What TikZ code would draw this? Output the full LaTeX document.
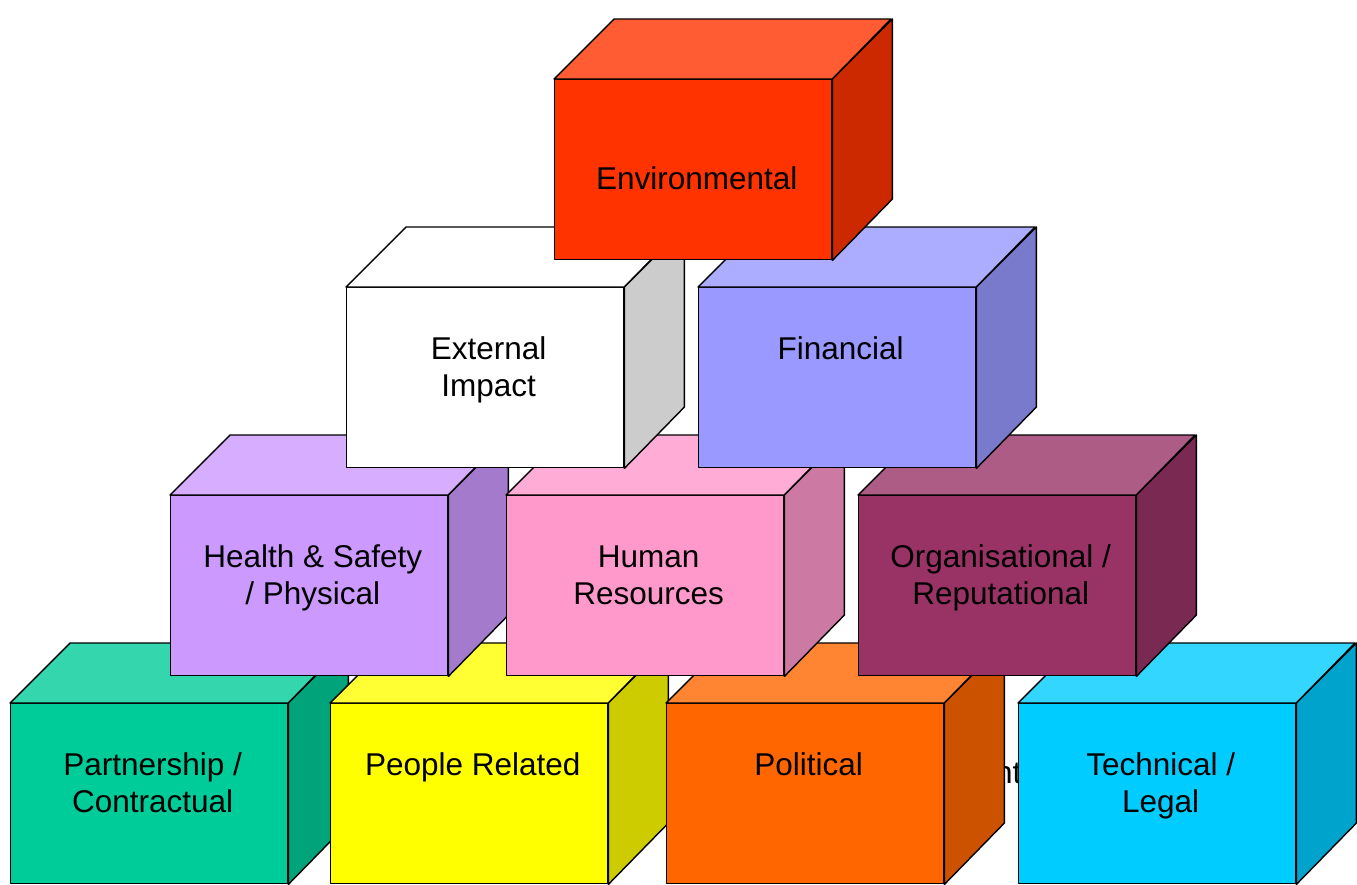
\documentclass[tikz,border=0pt]{standalone}
\usepackage{fontspec}
\setmainfont{Liberation Sans}
\begin{document}
\begin{tikzpicture}[x=1pt,y=-1pt]
\tikzset{
  face/.style={draw=black, line width=1.4pt, line join=round},
  lbl/.style={align=center, inner sep=0pt, font=\fontsize{31.5}{37}\selectfont},
}
\definecolor{cEnv}{HTML}{FF3300}
\definecolor{cExt}{HTML}{FFFFFF}
\definecolor{cFin}{HTML}{9999FF}
\definecolor{cHS}{HTML}{CC99FF}
\definecolor{cHR}{HTML}{FF99CC}
\definecolor{cOrg}{HTML}{993366}
\definecolor{cPart}{HTML}{00CC99}
\definecolor{cPeop}{HTML}{FFFF00}
\definecolor{cPol}{HTML}{FF6600}
\definecolor{cTech}{HTML}{00CCFF}
% block: name, left, top, colour, last baseline below top, label
\newcommand\block[6]{%
  \node[face, fill=#4, minimum width=277pt, minimum height=180pt,
        inner sep=0pt, anchor=north west] (#1) at (#2,#3) {};
  \draw[face, fill=#4!80!white] (#1.north west) -- ++(60,-60) -- ++(277,0)
        -- (#1.north east) -- cycle;
  \draw[face, fill=#4!80!black] (#1.north east) -- ++(60,-60) -- ++(0,180)
        -- (#1.south east) -- cycle;
  \node[lbl, anchor=base] (#1-txt) at ([xshift=3.5pt,yshift=-#5pt]#1.north) {#6};
}
\useasboundingbox (0,0) rectangle (1357,884);
\fill[white] (0,0) rectangle (1357,884);
% stray caption text partly hidden by the lowest row
\node[lbl, anchor=base west] (stray) at (995,783) {nt};
% lowest row
\block{part}{10}{703}{cPart}{109}{Partnership /\\Contractual}
\block{peop}{330}{703}{cPeop}{72}{People Related}
\block{pol}{666}{703}{cPol}{72}{Political}
\block{tech}{1018}{703}{cTech}{109}{Technical /\\Legal}
% third row
\block{hs}{170}{495}{cHS}{109}{Health \& Safety\\/ Physical}
\block{hr}{506}{495}{cHR}{109}{Human\\Resources}
\block{org}{858}{495}{cOrg}{109}{Organisational /\\Reputational}
% second row
\block{ext}{346}{287}{cExt}{109}{External\\Impact}
\block{fin}{698}{287}{cFin}{72}{Financial}
% top
\block{env}{554}{79}{cEnv}{110}{Environmental}
\end{tikzpicture}
\end{document}
